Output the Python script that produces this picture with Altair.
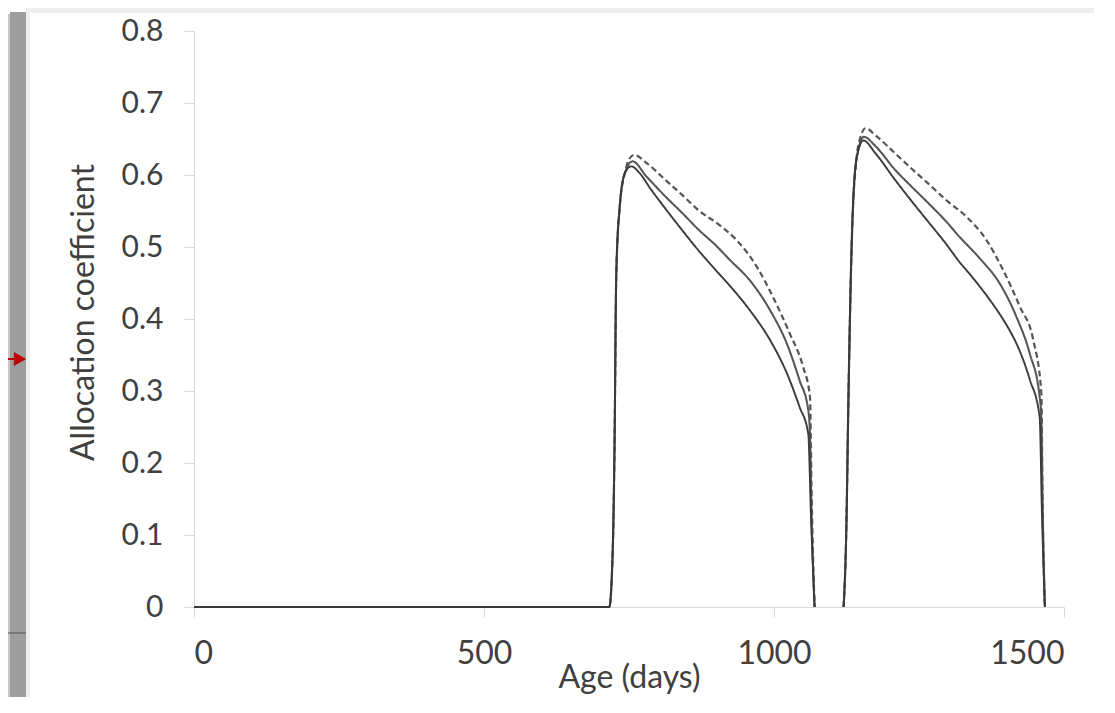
import altair as alt
import pandas as pd

# ---- data ----
# thick solid line
thick_day_1 = [0, 716, 722, 725, 728, 734, 743, 754, 768, 787, 813, 842, 870, 900, 924, 958, 993, 1022, 1044, 1059, 1064, 1070]
thick_val_1 = [0, 0, 0.08, 0.22, 0.46, 0.556, 0.603, 0.612, 0.603, 0.581, 0.553, 0.523, 0.495, 0.4675, 0.446, 0.4125, 0.371, 0.325, 0.278, 0.241, 0.12, 0]
thick_day_2 = [1120, 1125, 1128, 1134, 1142, 1154, 1175, 1209, 1237, 1266, 1295, 1320, 1345, 1369, 1389, 1405, 1418, 1441, 1458, 1462, 1467]
thick_val_2 = [0, 0.12, 0.274, 0.505, 0.621, 0.648, 0.63, 0.593, 0.564, 0.535, 0.506, 0.479, 0.455, 0.43, 0.407, 0.386, 0.366, 0.316, 0.264, 0.13, 0]

# thin solid line
thin_day_1 = [0, 716, 722, 725, 728, 734, 743, 756, 780, 813, 842, 870, 900, 924, 958, 993, 1022, 1044, 1059, 1062, 1065, 1070]
thin_val_1 = [0, 0, 0.08, 0.22, 0.46, 0.556, 0.603, 0.619, 0.598, 0.570, 0.547, 0.524, 0.502, 0.482, 0.454, 0.4125, 0.366, 0.315, 0.274, 0.24, 0.12, 0]
thin_day_2 = [1120, 1125, 1128, 1134, 1142, 1155, 1175, 1209, 1237, 1266, 1295, 1320, 1355, 1389, 1418, 1441, 1458, 1461, 1463, 1467]
thin_val_2 = [0, 0.12, 0.274, 0.505, 0.621, 0.653, 0.64, 0.607, 0.584, 0.561, 0.537, 0.514, 0.484, 0.4495, 0.403, 0.352, 0.292, 0.26, 0.15, 0]

# dashed line
dash_day_1 = [0, 716, 722, 725, 728, 734, 743, 749, 759, 780, 813, 842, 870, 905, 935, 970, 998, 1027, 1050, 1062, 1065, 1070]
dash_val_1 = [0, 0, 0.08, 0.22, 0.46, 0.556, 0.603, 0.62, 0.628, 0.617, 0.593, 0.572, 0.551, 0.531, 0.510, 0.473, 0.431, 0.380, 0.334, 0.292, 0.15, 0]
dash_day_2 = [1120, 1125, 1128, 1134, 1142, 1150, 1158, 1175, 1209, 1237, 1266, 1300, 1332, 1366, 1395, 1424, 1447, 1461, 1463, 1467]
dash_val_2 = [0, 0.12, 0.274, 0.505, 0.621, 0.655, 0.665, 0.655, 0.630, 0.609, 0.588, 0.563, 0.542, 0.510, 0.468, 0.417, 0.371, 0.297, 0.15, 0]

y_ticks = [0, 0.1, 0.2, 0.3, 0.4, 0.5, 0.6, 0.7, 0.8]
x_ticks = [0, 500, 1000, 1500]

series_order = ["dashed", "thin", "thick"]

rows = []
for name, segs in [
    ("dashed", [(dash_day_1, dash_val_1), (dash_day_2, dash_val_2)]),
    ("thin", [(thin_day_1, thin_val_1), (thin_day_2, thin_val_2)]),
    ("thick", [(thick_day_1, thick_val_1), (thick_day_2, thick_val_2)]),
]:
    for si, (dd, vv) in enumerate(segs):
        for d, v in zip(dd, vv):
            rows.append({"series": name, "seg": f"{name}-{si}", "day": d, "val": v,
                         "order": series_order.index(name)})
df = pd.DataFrame(rows)

FONT = "Lato"
TXT = "#404040"

lines = alt.Chart(df).mark_line(interpolate="monotone").encode(
    x=alt.X("day:Q", scale=alt.Scale(domain=[0, 1500], nice=False),
            axis=alt.Axis(values=x_ticks, format="d", title="Age (days)", grid=False,
                          domainColor="#d9d9d9", tickColor="#d9d9d9", tickSize=10,
                          labelFont=FONT, labelFontSize=32, labelColor=TXT, labelPadding=21,
                          titleFont=FONT, titleFontSize=32, titleFontWeight="normal",
                          titleColor=TXT, titlePadding=-7)),
    y=alt.Y("val:Q", scale=alt.Scale(domain=[0, 0.8], nice=False),
            axis=alt.Axis(values=y_ticks, title="Allocation coefficient", grid=False,
                          labelExpr="datum.value == 0 ? '0' : format(datum.value, '.1f')",
                          domainColor="#d9d9d9", tickColor="#d9d9d9", tickSize=10,
                          labelFont=FONT, labelFontSize=30, labelColor=TXT, labelPadding=21,
                          titleFont=FONT, titleFontSize=32, titleFontWeight="normal",
                          titleColor=TXT, titlePadding=21, titleY=281)),
    color=alt.Color("series:N", scale=alt.Scale(domain=series_order,
                                                range=["#555555", "#555555", "#3a3a3a"]), legend=None),
    strokeWidth=alt.StrokeWidth("series:N", scale=alt.Scale(domain=series_order, range=[2.2, 1.9, 3]), legend=None),
    strokeDash=alt.StrokeDash("series:N", scale=alt.Scale(domain=series_order,
                                                          range=[[6, 3.5], [1, 0], [1, 0]]), legend=None),
    detail="seg:N",
    order="order:Q",
)

one = pd.DataFrame({"k": [0]})
# screenshot frame decorations (shadow band, light frame edge, margin marks)
band = alt.Chart(one).mark_rect(color="#9e9e9e").encode(
    x=alt.value(-184), x2=alt.value(-168), y=alt.value(-19), y2=alt.value(666)
)
band_soft = alt.Chart(one).mark_rect(color="#c8c8c8").encode(
    x=alt.value(-186), x2=alt.value(-183), y=alt.value(-17), y2=alt.value(666)
)
top_edge = alt.Chart(one).mark_rect(color="#efefef").encode(
    x=alt.value(-168), x2=alt.value(900), y=alt.value(-23), y2=alt.value(-18)
)
left_edge = alt.Chart(one).mark_rect(color="#efefef").encode(
    x=alt.value(-168), x2=alt.value(-164), y=alt.value(-23), y2=alt.value(666)
)
arrow_line = alt.Chart(one).mark_rule(color="#c00000", strokeWidth=2).encode(
    x=alt.value(-186), x2=alt.value(-178), y=alt.value(328)
)
arrow_head = alt.Chart(one).mark_point(shape="triangle-right", filled=True, color="#c00000",
                                       size=200, opacity=1).encode(
    x=alt.value(-174), y=alt.value(328)
)
side_mark = alt.Chart(one).mark_rule(color="#555555", strokeWidth=1).encode(
    x=alt.value(-186), x2=alt.value(-168), y=alt.value(602)
)

chart = alt.layer(band_soft, band, top_edge, left_edge, side_mark, arrow_line, arrow_head, lines).properties(
    width=870, height=576,
    padding={"left": 186, "top": 23, "right": 30, "bottom": 90},
    autosize=alt.AutoSizeParams(type="none"),
).configure_view(strokeWidth=0)

chart.save("out.html", embed_options={"renderer": "svg", "actions": False})
